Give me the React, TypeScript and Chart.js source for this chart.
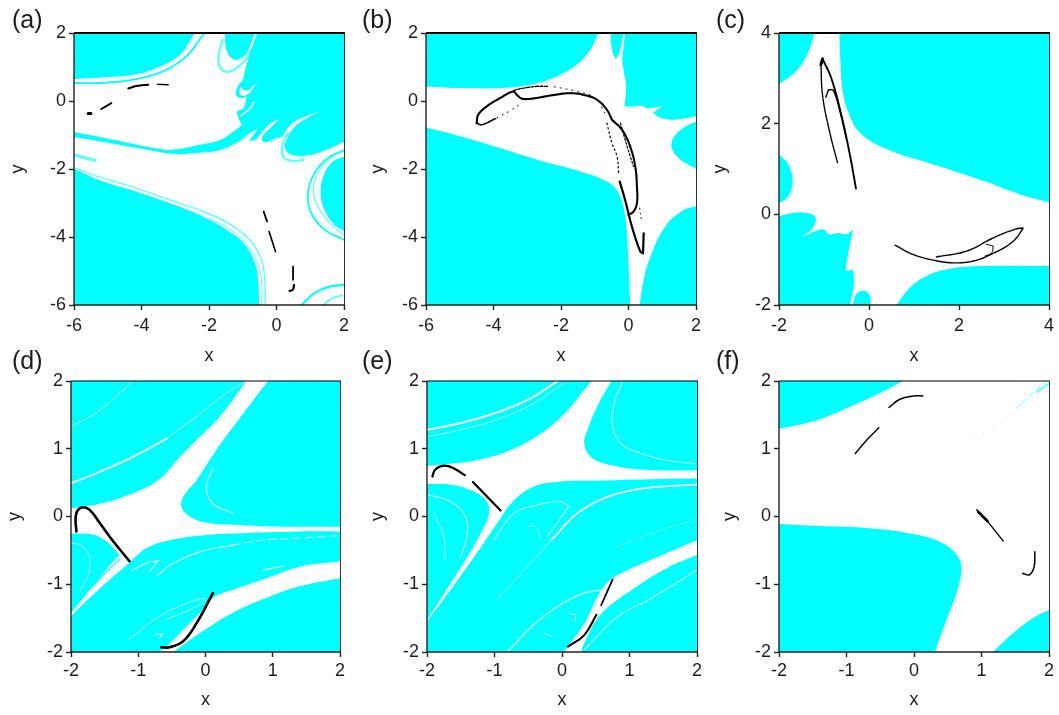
import React, { useEffect, useRef } from "react";
import { Chart, registerables } from "chart.js";

Chart.register(...registerables);

type P = [number, number];

const ticksWide = [-6, -4, -2, 0, 2];
const ticksShift = [-2, 0, 2, 4];
const ticksUnit = [-2, -1, 0, 1, 2];

// ---------- panel (a)
const aTopLeft: P[] = [[-6, 2], [-2.42, 2], [-2.86, 1.36], [-3.55, 0.97], [-4.24, 0.77], [-5.03, 0.7], [-6, 0.65]];
const aTopBand: P[] = [[-6, 0.53], [-5.23, 0.53], [-4.24, 0.63], [-3.36, 0.87], [-2.67, 1.31], [-2.17, 1.95], [-2.12, 2]];
const aPocket: P[] = [[-1.53, 2], [-1.48, 1.5], [-1.28, 1.23], [-0.98, 1.3], [-0.79, 1.6], [-0.64, 2]];
const aPocketBand: P[] = [[-1.6, 1.79], [-1.72, 1.3], [-1.65, 0.96], [-1.43, 0.86], [-1.13, 1.01], [-0.88, 1.26], [-0.74, 1.55]];
const aMain: P[] = [[-0.57, 2], [2, 2], [2, -1.2], [1.59, -1.39], [0.99, -1.59], [0.45, -1.59], [0.25, -1.39], [0.32, -1.1], [0.55, -0.75], [0.9, -0.51], [1.29, -0.31], [0.8, -0.48], [0.4, -0.71], [0.15, -1.05], [-0.04, -1.1], [-0.24, -1.2], [-0.41, -1.2], [-0.42, -1.05], [-0.14, -0.75], [0.1, -0.51], [-0.24, -0.71], [-0.49, -1], [-0.64, -1.15], [-0.81, -1.17], [-0.54, -0.8], [-0.79, -0.95], [-1.13, -1.2], [-1.67, -1.44], [-2.27, -1.52], [-3.06, -1.55], [-3.95, -1.41], [-4.93, -1.24], [-6, -1.06], [-6, -0.91], [-4.93, -1.12], [-3.95, -1.32], [-3.06, -1.43], [-2.27, -1.29], [-1.67, -1.15], [-1.28, -0.9], [-1.03, -0.71], [-1.13, -0.48], [-1.16, -0.31], [-0.98, -0.22], [-0.88, 0.13], [-1.03, 0.08], [-1.2, 0.18], [-1.13, 0.47], [-1, 0.62], [-0.93, 0.91], [-0.79, 1.4]];
const aWhitePocket: P[] = [[-1.06, 0.42], [-1.1, 0.23], [-0.98, 0.15], [-0.79, 0.25], [-0.54, 0.62], [-0.83, 0.32], [-0.98, 0.32]];
const aSliver: P[] = [[-0.64, -0.02], [-0.83, -0.26], [-1.06, -0.44]];
const aBlobBand: P[] = [[0.35, -0.95], [0.18, -1.29], [0.2, -1.64], [0.45, -1.76], [0.8, -1.73]];
const aRightBlob: P[] = [[2, -1.63], [1.67, -1.78], [1.43, -2.12], [1.31, -2.61], [1.38, -3.1], [1.67, -3.59], [2, -3.84]];
const aRightBand: P[] = [[2, -1.45], [1.52, -1.68], [1.13, -2.12], [0.93, -2.71], [1.03, -3.3], [1.43, -3.79], [2, -4.08]];
const aRightBandInner: P[] = [[2, -3.95], [1.52, -3.52], [1.16, -2.98], [1.1, -2.5], [1.29, -2.0], [1.7, -1.6]];
const aLow: P[] = [[-6, -2], [-5.13, -2.37], [-4.14, -2.67], [-3.16, -3.01], [-2.17, -3.4], [-1.48, -3.79], [-0.98, -4.18], [-0.64, -4.77], [-0.54, -5.36], [-0.51, -6], [-6, -6]];
const aLowBand: P[] = [[-6, -1.97], [-5.13, -2.27], [-4.14, -2.57], [-3.16, -2.91], [-2.17, -3.25], [-1.38, -3.62], [-0.79, -4.09], [-0.44, -4.68], [-0.34, -5.36], [-0.34, -6]];
const aLowBandInner: P[] = [[-1.97, -3.45], [-1.28, -3.84], [-0.84, -4.28], [-0.54, -4.82], [-0.44, -5.36], [-0.44, -6]];
const aLeftBand: P[] = [[-6, -1.58], [-5.72, -1.66], [-5.38, -1.74]];
const aCornerBand: P[] = [[0.74, -6], [1.13, -5.65], [1.57, -5.46], [2, -5.41]];
const aCornerBand2: P[] = [[1.38, -6], [1.67, -5.8], [2, -5.7]];
const aOrbit1: P[] = [[-5.58, -0.37], [-5.5, -0.37]];
const aOrbit2: P[] = [[-5.2, -0.24], [-4.89, -0.06]];
const aOrbit3: P[] = [[-4.39, 0.37], [-4.15, 0.44], [-3.8, 0.48]];
const aOrbit4: P[] = [[-3.53, 0.49], [-3.21, 0.48]];
const aOrbit5: P[] = [[-0.38, -3.25], [-0.28, -3.54]];
const aOrbit6: P[] = [[-0.22, -3.84], [-0.03, -4.43]];
const aOrbit7: P[] = [[0.49, -4.87], [0.49, -5.26]];
const aOrbit8: P[] = [[0.52, -5.41], [0.49, -5.54], [0.39, -5.59]];

// ---------- panel (b)
const bTopLeft: P[] = [[-6, 2], [-0.89, 2], [-1.13, 1.51], [-1.53, 1.07], [-2.12, 0.72], [-2.91, 0.48], [-3.9, 0.38], [-4.89, 0.38], [-6, 0.43]];
const bSpike: P[] = [[-0.54, 2], [-0.49, 1.51], [-0.39, 1.23], [-0.29, 1.36], [-0.14, 2]];
const bTopRight: P[] = [[-0.1, 2], [2, 2], [2, -0.45], [1.34, -0.55], [0.89, -0.47], [0.73, -0.34], [0.99, -0.16], [0.55, -0.21], [0.4, -0.14], [0.15, -0.16], [-0.12, -0.16], [-0.07, 0.43], [-0.14, 0.87], [-0.19, 1.21]];
const bEllipse: P[] = [[2, -0.6], [1.54, -0.85], [1.27, -1.24], [1.44, -1.63], [2, -2]];
const bBottomRight: P[] = [[0.33, -6], [0.45, -5.26], [0.65, -4.58], [1.09, -3.69], [1.64, -3.2], [2, -3.1], [2, -6]];
const bBottomLeft: P[] = [[-6, -0.78], [-4.99, -1.04], [-3.8, -1.39], [-2.52, -1.78], [-1.43, -2.07], [-0.64, -2.37], [-0.29, -2.71], [-0.1, -3.4], [-0.02, -4.38], [0.05, -6], [-6, -6]];
const bArc: P[] = [[-4.5, -0.65], [-4.45, -0.4], [-4.2, -0.16], [-3.8, 0.09], [-3.41, 0.28], [-3.31, 0.18], [-3.16, 0.07], [-2.86, 0.07], [-2.32, 0.16], [-1.73, 0.23], [-1.33, 0.18], [-0.94, 0.04], [-0.64, -0.26], [-0.49, -0.55]];
const bArcTop: P[] = [[-3.41, 0.31], [-3.11, 0.38], [-2.72, 0.43], [-2.37, 0.43]];
const bTail: P[] = [[-4.5, -0.65], [-4.35, -0.7], [-3.95, -0.52]];
const bTailDots: P[] = [[-3.9, -0.5], [-3.5, -0.28], [-3.15, -0.05]];
const bRight: P[] = [[-0.49, -0.55], [-0.19, -0.85], [0.05, -1.34], [0.2, -1.93], [0.25, -2.51], [0.25, -3], [0.15, -3.25], [0, -3.35]];
const bDown: P[] = [[-0.26, -2.37], [-0.1, -2.91], [0.1, -3.69], [0.35, -4.43], [0.43, -4.48], [0.45, -3.89]];
const bDotsA: P[] = [[-0.64, -0.65], [-0.49, -1.24], [-0.34, -1.63], [-0.29, -2.12]];
const bDotsB: P[] = [[-0.24, -0.65], [-0.04, -1.34], [0.15, -1.93]];
const bDotsC: P[] = [[0.33, -3.15], [0.38, -3.5]];
const bDotsD: P[] = [[-2.2, 0.42], [-1.6, 0.3], [-1.0, 0.1], [-0.7, -0.35]];

// ---------- panel (c)
const cTopLeft: P[] = [[-2, 4], [-1.21, 4], [-1.35, 3.57], [-1.61, 3.17], [-2, 2.87]];
const cMain: P[] = [[-0.66, 4], [4, 4], [4, 0.27], [3.36, 0.44], [2.54, 0.74], [1.43, 1.1], [0.39, 1.44], [-0.2, 1.8], [-0.46, 2.25], [-0.59, 2.76], [-0.64, 3.43]];
const cLeft: P[] = [[-2, 1.32], [-1.79, 1.1], [-1.7, 0.74], [-1.79, 0.4], [-2, 0.24]];
const cLowLeft: P[] = [[-2, -0.04], [-1.61, 0.04], [-1.27, 0], [-1.18, -0.11], [-1.27, -0.33], [-1.46, -0.48], [-1.01, -0.33], [-0.9, -0.44], [-0.68, -0.41], [-0.5, -0.44], [-0.35, -0.33], [-0.46, -0.85], [-0.52, -1.25], [-0.35, -1.22], [-0.33, -1.51], [-0.42, -2], [-2, -2]];
const cBump: P[] = [[-0.36, -2], [-0.29, -1.77], [-0.13, -1.68], [0.01, -1.77], [0.04, -2]];
const cLowRight: P[] = [[0.61, -2], [0.91, -1.62], [1.28, -1.36], [1.8, -1.2], [2.54, -1.14], [4, -1.14], [4, -2]];
const cOuter: P[] = [[-1.03, 3.43], [-0.83, 2.98], [-0.61, 2.17], [-0.42, 1.29], [-0.29, 0.57]];
const cInnerLeft: P[] = [[-1.07, 3.35], [-1.03, 2.61], [-0.87, 1.8], [-0.7, 1.14]];
const cHookUp: P[] = [[-0.96, 2.58], [-0.9, 2.75], [-0.79, 2.73], [-0.64, 2.25], [-0.5, 1.66]];
const cTip: P[] = [[-1.07, 3.3], [-1.03, 3.43]];
const cLoop: P[] = [[0.58, -0.68], [0.99, -0.89], [1.43, -1.01], [1.87, -1.07], [2.32, -1.03], [2.76, -0.86], [3.21, -0.59], [3.43, -0.3], [3.24, -0.33], [2.76, -0.52], [2.17, -0.81], [1.5, -0.94]];
const cHook: P[] = [[2.61, -0.66], [2.76, -0.7], [2.73, -0.85], [2.58, -0.92]];

// ---------- panel (d)
const dBack: P[] = [[-2, -2], [2, -2], [2, 2], [-2, 2]];
const dStar: P[] = [[-2, 0.12], [-1.52, 0.2], [-1.02, 0.37], [-0.7, 0.54], [-0.38, 0.88], [-0.08, 1.18], [0.21, 1.47], [0.61, 2], [0.93, 2], [0.56, 1.52], [0.16, 0.98], [-0.13, 0.54], [-0.33, 0.29], [-0.35, 0.12], [-0.18, -0.03], [0.07, -0.1], [0.41, -0.12], [1.16, -0.15], [2, -0.15], [2, -0.22], [1.4, -0.22], [0.41, -0.25], [0.07, -0.27], [-0.53, -0.35], [-0.88, -0.47], [-1.12, -0.67], [-1.42, -0.93], [-1.72, -1.2], [-2, -1.47], [-2, -1.43], [-1.62, -0.96], [-1.35, -0.64], [-1.27, -0.57], [-1.32, -0.52], [-1.47, -0.37], [-1.67, -0.27], [-2, -0.25]];
const dWedge: P[] = [[-1.27, -0.63], [-1.52, -0.86], [-1.72, -1.08]];
const dLowBand: P[] = [[2, -0.66], [1.4, -0.74], [0.91, -0.91], [0.41, -1.08], [0.11, -1.2], [-0.08, -1.42], [-0.28, -1.62], [-0.58, -1.92], [-0.7, -2], [-0.48, -2], [-0.08, -1.72], [0.41, -1.42], [0.91, -1.2], [1.4, -1.03], [2, -0.91]];
const dThin1: P[] = [[-2, 1.33], [-1.57, 1.57], [-1.08, 2]];
const dThick: P[] = [[-2, 0.49], [-1.57, 0.66], [-1.08, 0.88], [-0.58, 1.15]];
const dThickEnd: P[] = [[-0.58, 1.15], [-0.08, 1.52], [0.31, 1.82], [0.61, 2]];
const dLoop: P[] = [[0.11, 0.71], [0.02, 0.49], [0.04, 0.29], [0.16, 0.15], [0.41, 0.05]];
const dLobe: P[] = [[-2, -0.39], [-1.82, -0.44], [-1.72, -0.64], [-1.75, -0.88], [-1.87, -1.11]];
const dMidStreak: P[] = [[-0.73, -0.88], [-0.48, -0.69], [-0.08, -0.52], [0.41, -0.42]];
const dMidStreakEnd: P[] = [[0.41, -0.42], [0.91, -0.34], [1.4, -0.32], [2, -0.28]];
const dArrow: P[] = [[-1.08, -0.79], [-0.88, -0.69], [-0.7, -0.65], [-0.83, -0.81]];
const dDash: P[] = [[0.86, -0.79], [1.16, -0.73]];
const dLowStreak: P[] = [[-1.15, -1.82], [-0.68, -1.47], [-0.28, -1.28], [-0.01, -1.2], [-0.08, -1.3], [-0.58, -1.52]];
const dTick: P[] = [[-0.75, -1.74], [-0.63, -1.73], [-0.68, -1.79]];
const dOrbitA: P[] = [[-1.92, -0.22], [-1.93, 0], [-1.87, 0.12], [-1.74, 0.11], [-1.57, -0.1], [-1.37, -0.37], [-1.13, -0.66]];
const dOrbitB: P[] = [[-0.66, -1.93], [-0.53, -1.93], [-0.33, -1.84], [-0.13, -1.57], [0.11, -1.13]];

// ---------- panel (e)
const eBack: P[] = [[-2, -2], [2, -2], [2, 2], [-2, 2]];
const eStar: P[] = [[-2, 0.75], [-1.65, 0.78], [-1.26, 0.83], [-0.76, 0.98], [-0.31, 1.23], [0.04, 1.52], [0.33, 1.87], [0.44, 2], [0.73, 2], [0.52, 1.62], [0.38, 1.28], [0.33, 1.08], [0.43, 0.88], [0.72, 0.76], [1.22, 0.69], [2, 0.68], [2, 0.56], [1.32, 0.55], [0.57, 0.53], [-0.07, 0.51], [-0.42, 0.44], [-0.71, 0.24], [-0.96, -0.1], [-1.26, -0.54], [-1.65, -1.08], [-2, -1.55], [-2, -1.53], [-1.65, -0.99], [-1.26, -0.35], [-1.08, 0.05], [-1.13, 0.24], [-1.36, 0.39], [-1.65, 0.47], [-2, 0.48]];
const eLowBand: P[] = [[2, -0.35], [1.32, -0.64], [0.75, -0.91], [0.57, -1.11], [0.33, -1.58], [0.03, -2], [0.28, -2], [0.33, -1.87], [0.57, -1.45], [1.07, -1.06], [1.56, -0.76], [2, -0.57]];
const eTop1: P[] = [[-2, 1.28], [-1.5, 1.38], [-1.01, 1.52], [-0.51, 1.72], [-0.06, 2]];
const eTop2: P[] = [[-2, 1.18], [-1.41, 1.3], [-0.91, 1.45], [-0.42, 1.67], [0.03, 1.97]];
const eRightLoop: P[] = [[0.9, 2], [0.77, 1.67], [0.75, 1.33], [0.87, 1.08], [1.17, 0.93], [1.56, 0.83], [1.96, 0.78]];
const eDiagThin: P[] = [[-0.96, -1.23], [-0.56, -0.79], [-0.16, -0.35]];
const eDiagThick: P[] = [[-0.16, -0.35], [0.23, 0.05], [0.67, 0.29], [1.22, 0.42], [2, 0.47]];
const eMidLoop: P[] = [[-1.01, -0.35], [-0.71, 0.05], [-0.36, 0.17], [-0.02, 0.22], [0.1, 0.15], [0.03, 0.05], [-0.22, -0.3]];
const eMidTick: P[] = [[-0.51, -0.15], [-0.39, -0.15], [-0.32, -0.32]];
const eLeft1: P[] = [[-1.98, 0.32], [-1.65, 0.22], [-1.43, 0], [-1.41, -0.3], [-1.5, -0.59]];
const eLeft2: P[] = [[-1.9, 0.05], [-1.75, -0.3], [-1.73, -0.64]];
const eLowEdge: P[] = [[-0.81, -2], [-0.42, -1.6], [-0.07, -1.33], [0.33, -1.13], [0.67, -1.08]];
const eLowRight: P[] = [[0.33, -1.97], [0.82, -1.48], [1.32, -1.21], [2, -0.79]];
const eRightDash: P[] = [[0.82, -0.44], [1.32, -0.25], [1.96, -0.05]];
const eSmall1: P[] = [[0.1, -1.43], [0.2, -1.45], [0.2, -1.55]];
const eSmall2: P[] = [[-0.27, -1.72], [-0.14, -1.77]];
const eOrbitA: P[] = [[-1.92, 0.59], [-1.88, 0.69], [-1.75, 0.75], [-1.6, 0.71], [-1.44, 0.61]];
const eOrbitB: P[] = [[-1.32, 0.51], [-0.91, 0.09]];
const eOrbitC: P[] = [[0.09, -1.92], [0.33, -1.75], [0.51, -1.45]];
const eOrbitD: P[] = [[0.58, -1.31], [0.75, -0.93]];

// ---------- panel (f)
const fTopLeft: P[] = [[-2, 2], [-0.16, 2], [-0.51, 1.82], [-0.95, 1.62], [-1.44, 1.42], [-2, 1.29]];
const fLow: P[] = [[-2, -0.11], [-1.44, -0.14], [-0.7, -0.17], [0.04, -0.27], [0.43, -0.4], [0.65, -0.59], [0.7, -0.79], [0.63, -1.13], [0.48, -1.53], [0.31, -2], [-2, -2]];
const fCorner: P[] = [[1.17, -2], [1.47, -1.72], [1.76, -1.5], [2, -1.38], [2, -2]];
const fStreak1: P[] = [[1.52, 1.6], [1.76, 1.82], [1.96, 1.99]];
const fStreak2: P[] = [[1.82, 1.84], [2, 1.96]];
const fFaint: P[] = [[0.87, 1.15], [1.27, 1.38], [1.42, 1.52]];
const fOrbitA: P[] = [[-0.37, 1.61], [-0.21, 1.73], [-0.01, 1.78], [0.13, 1.78]];
const fOrbitB: P[] = [[-0.52, 1.31], [-0.7, 1.13], [-0.87, 0.93]];
const fOrbitC: P[] = [[0.93, 0.1], [1.07, -0.05], [1.32, -0.36]];
const fOrbitCThick: P[] = [[0.95, 0.07], [1.09, -0.07]];
const fOrbitD: P[] = [[1.79, -0.52], [1.78, -0.74], [1.71, -0.86], [1.61, -0.84]];

// ---------- styling helpers
const CYAN = "#00ffff";
const WHITE = "#ffffff";
const SOFT = "rgba(255,255,255,0.68)";
const INK = "#000000";
const PALE = "rgba(0,255,255,0.62)";

type Layer = { pts: P[]; fill?: string; color?: string; w?: number; dash?: number[] };
const area = (pts: P[], fill = CYAN): Layer => ({ pts, fill });
const line = (pts: P[], color: string, w: number, dash?: number[]): Layer => ({ pts, color, w, dash });

type PanelCfg = {
  letter: string;
  ticks: number[];
  rect: { l: number; r: number; t: number; b: number };
  letterX: number;
  yTitleX: number;
  row: 0 | 1;
  layers: Layer[];
};

const panels: PanelCfg[] = [
  {
    letter: "(a)", ticks: ticksWide, rect: { l: 74, r: 344, t: 33, b: 305 }, letterX: 12, yTitleX: 18, row: 0,
    layers: [
      area(aTopLeft), area(aPocket), area(aMain), area(aRightBlob), area(aLow),
      area(aWhitePocket, WHITE), line(aSliver, WHITE, 1.4),
      line(aTopBand, CYAN, 1.8), line(aPocketBand, PALE, 2.4), line(aBlobBand, PALE, 2.4),
      line(aRightBand, CYAN, 1.8), line(aRightBandInner, PALE, 1.2), line(aLowBand, PALE, 1.4), line(aLowBandInner, PALE, 1),
      line(aLeftBand, PALE, 3.5, [5, 2]), line(aCornerBand, CYAN, 2.2), line(aCornerBand2, PALE, 2, [4, 2]),
      line(aOrbit1, INK, 3), line(aOrbit2, INK, 1.8), line(aOrbit3, INK, 2), line(aOrbit4, INK, 1.4),
      line(aOrbit5, INK, 1.8), line(aOrbit6, INK, 1.6), line(aOrbit7, INK, 1.8), line(aOrbit8, INK, 2.2),
    ],
  },
  {
    letter: "(b)", ticks: ticksWide, rect: { l: 426, r: 696, t: 33, b: 305 }, letterX: 362, yTitleX: 378, row: 0,
    layers: [
      area(bTopLeft), area(bSpike), area(bTopRight), area(bEllipse), area(bBottomRight), area(bBottomLeft),
      line(bArc, INK, 2.1, [4, 1]), line(bArcTop, INK, 1.3, [3, 1.5]), line(bTail, INK, 1.6, [3, 1]), line(bTailDots, INK, 1, [1, 5]),
      line(bRight, INK, 2.1, [4, 1]), line(bDown, INK, 2.2),
      line(bDotsA, INK, 1.2, [1.5, 3]), line(bDotsB, INK, 1.2, [2, 2]), line(bDotsC, INK, 1, [1, 4]), line(bDotsD, INK, 1, [1, 5]),
    ],
  },
  {
    letter: "(c)", ticks: ticksShift, rect: { l: 779, r: 1049, t: 33, b: 305 }, letterX: 716, yTitleX: 720, row: 0,
    layers: [
      area(cTopLeft), area(cMain), area(cLeft), area(cLowLeft), area(cBump), area(cLowRight),
      line(cOuter, INK, 1.9, [6, 1]), line(cInnerLeft, INK, 1.4, [3, 1]), line(cHookUp, INK, 1.4), line(cTip, INK, 3),
      line(cLoop, INK, 1.4, [7, 1]), line(cHook, INK, 1),
    ],
  },
  {
    letter: "(d)", ticks: ticksUnit, rect: { l: 71, r: 340, t: 381, b: 652 }, letterX: 12, yTitleX: 15, row: 1,
    layers: [
      area(dBack), area(dStar, WHITE), area(dLowBand, WHITE), line(dWedge, CYAN, 1.2),
      line(dThin1, SOFT, 1), line(dThick, WHITE, 1.8), line(dThickEnd, SOFT, 1), line(dLoop, SOFT, 1.4),
      line(dLobe, SOFT, 1), line(dMidStreak, SOFT, 1.4), line(dMidStreakEnd, SOFT, 1.2, [8, 4]),
      line(dArrow, SOFT, 1.4), line(dDash, SOFT, 1.6), line(dLowStreak, SOFT, 1), line(dTick, SOFT, 1.2),
      line(dOrbitA, INK, 2.6), line(dOrbitB, INK, 2.6),
    ],
  },
  {
    letter: "(e)", ticks: ticksUnit, rect: { l: 427, r: 697, t: 381, b: 652 }, letterX: 362, yTitleX: 378, row: 1,
    layers: [
      area(eBack), area(eStar, WHITE), area(eLowBand, WHITE),
      line(eTop1, WHITE, 2), line(eTop2, SOFT, 0.9), line(eRightLoop, SOFT, 1.2), line(eDiagThin, SOFT, 0.9),
      line(eDiagThick, WHITE, 1.8), line(eMidLoop, SOFT, 1.1), line(eMidTick, SOFT, 0.9), line(eLeft1, SOFT, 1.2),
      line(eLeft2, SOFT, 0.9), line(eLowEdge, SOFT, 1.5), line(eLowRight, SOFT, 1.2), line(eRightDash, SOFT, 0.8, [3, 3]),
      line(eSmall1, SOFT, 1.1), line(eSmall2, SOFT, 0.9),
      line(eOrbitA, INK, 2.2), line(eOrbitB, INK, 2.2), line(eOrbitC, INK, 2), line(eOrbitD, INK, 1.8),
    ],
  },
  {
    letter: "(f)", ticks: ticksUnit, rect: { l: 779, r: 1049, t: 381, b: 652 }, letterX: 716, yTitleX: 730, row: 1,
    layers: [
      area(fTopLeft), area(fLow), area(fCorner),
      line(fFaint, "rgba(0,255,255,0.12)", 1.5, [2, 9]), line(fStreak1, PALE, 1, [5, 4]), line(fStreak2, PALE, 2),
      line(fOrbitA, INK, 1.5), line(fOrbitB, INK, 1.4), line(fOrbitC, INK, 1.4), line(fOrbitCThick, INK, 2.6), line(fOrbitD, INK, 1.5),
    ],
  },
];

// Sharp turns and points on the plot edge keep a real corner in the smoothed outline:
// a repeated point makes the spline leave that point along the straight chord.
function toPoints(pts: P[], ticks: number[], closed: boolean) {
  const lo = ticks[0];
  const hi = ticks[ticks.length - 1];
  const n = pts.length;
  const out: { x: number; y: number }[] = [];
  pts.forEach(([x, y], i) => {
    out.push({ x, y });
    let sharp = x === lo || x === hi || y === lo || y === hi;
    if (!sharp && (closed || (i > 0 && i < n - 1))) {
      const [px, py] = pts[(i - 1 + n) % n];
      const [nx, ny] = pts[(i + 1) % n];
      const ax = x - px, ay = y - py, bx = nx - x, by = ny - y;
      const cos = (ax * bx + ay * by) / (Math.hypot(ax, ay) * Math.hypot(bx, by) || 1);
      sharp = cos < 0.25;
    }
    if (sharp) out.push({ x, y });
  });
  return out;
}

const FONT = "'Liberation Sans', Arial, sans-serif";
const TEXT = "#1c1c1c";
const CANVAS_H = 370;

const framePlugin = {
  id: "frame",
  afterDatasetsDraw(chart: any, _a: any, opts: any) {
    const { left, right, top, bottom } = chart.chartArea;
    const ctx = chart.ctx;
    const edge = (x1: number, y1: number, x2: number, y2: number, w: number, c: string) => {
      ctx.strokeStyle = c;
      ctx.lineWidth = w;
      ctx.beginPath();
      ctx.moveTo(x1, y1);
      ctx.lineTo(x2, y2);
      ctx.stroke();
    };
    ctx.save();
    edge(left, top, right + 1, top, opts.topWidth, "#000");
    edge(right + 0.5, top, right + 0.5, bottom, 1, "#333");
    edge(left, top, left, bottom, 1.4, "#222");
    edge(left - 1, bottom, right + 1, bottom, 1.4, "#222");
    ctx.restore();
  },
};

function Panel({ cfg }: { cfg: PanelCfg }) {
  const ref = useRef<HTMLCanvasElement | null>(null);
  const canvasTop = cfg.row === 0 ? 0 : 345;
  const canvasLeft = Math.max(cfg.letterX - 12, 0);
  const canvasW = cfg.rect.r + 14 - canvasLeft;

  useEffect(() => {
    if (!ref.current) return;
    const { rect, ticks, row } = cfg;
    const leadLeft = cfg.letterX - canvasLeft;
    const letterCenter = row === 0 ? 21 : 362;
    const xTitleCenter = row === 0 ? 356 : 700;
    const titlePadTop = letterCenter - canvasTop - 12.5;
    const titlePadBottom = rect.t - canvasTop - 25 - titlePadTop;
    const yWidth = rect.l - canvasLeft - leadLeft;
    const xHeight = canvasTop + CANVAS_H - rect.b;

    const axis = (isX: boolean) => ({
      type: "linear" as const,
      position: isX ? ("bottom" as const) : ("left" as const),
      min: ticks[0],
      max: ticks[ticks.length - 1],
      afterBuildTicks: (s: any) => {
        s.ticks = ticks.map((value) => ({ value }));
      },
      afterFit: (s: any) => {
        if (isX) s.height = xHeight;
        else s.width = yWidth;
      },
      ticks: {
        autoSkip: false,
        maxRotation: 0,
        minRotation: 0,
        padding: isX ? (row === 0 ? 5 : 3) : 3,
        color: TEXT,
        font: { family: FONT, size: 18 },
        callback: (v: any) => String(v),
      },
      grid: { drawOnChartArea: false, drawTicks: true, tickLength: 5, tickColor: "#222", tickWidth: 1.4 },
      border: { display: false },
      title: {
        display: true,
        text: isX ? "x" : "y",
        color: TEXT,
        font: { family: FONT, size: 18, lineHeight: 1 },
        padding: isX
          ? { top: 0, bottom: canvasTop + CANVAS_H - xTitleCenter - 9 }
          : { top: cfg.yTitleX - cfg.letterX - 9, bottom: 0 },
      },
    });

    const datasets = cfg.layers
      .map((l) => ({
        data: toPoints(l.pts, ticks, !!l.fill),
        showLine: true,
        pointRadius: 0,
        tension: 0.4,
        fill: l.fill ? ("shape" as const) : false,
        backgroundColor: l.fill ?? "transparent",
        borderColor: l.color ?? "transparent",
        borderWidth: l.fill ? 0 : l.w,
        borderDash: l.dash ?? [],
        borderCapStyle: "round" as const,
        borderJoinStyle: "round" as const,
      }))
      .reverse();

    const chart = new Chart(ref.current, {
      type: "scatter",
      data: { datasets },
      plugins: [framePlugin],
      options: {
        responsive: false,
        animation: false,
        events: [],
        layout: { padding: { left: leadLeft, right: canvasLeft + canvasW - rect.r, top: 0, bottom: 0 } },
        scales: { x: axis(true), y: axis(false) },
        plugins: {
          legend: { display: false },
          tooltip: { enabled: false },
          frame: { topWidth: row === 0 ? 2 : 1.2 },
          title: {
            display: true,
            text: cfg.letter,
            align: "start",
            color: TEXT,
            fullSize: true,
            font: { family: FONT, size: 25, weight: "normal", lineHeight: 1 },
            padding: { top: titlePadTop, bottom: titlePadBottom },
          },
        },
      } as any,
    });
    return () => chart.destroy();
  }, [cfg, canvasLeft, canvasTop, canvasW]);

  return (
    <canvas
      ref={ref}
      width={canvasW}
      height={CANVAS_H}
      style={{ position: "absolute", left: canvasLeft, top: canvasTop, width: canvasW, height: CANVAS_H }}
    />
  );
}

export default function App() {
  return (
    <div style={{ position: "fixed", left: 0, top: 0, width: 1059, height: 715, overflow: "hidden", background: "#fff" }}>
      {panels.map((p) => (
        <Panel key={p.letter} cfg={p} />
      ))}
    </div>
  );
}
